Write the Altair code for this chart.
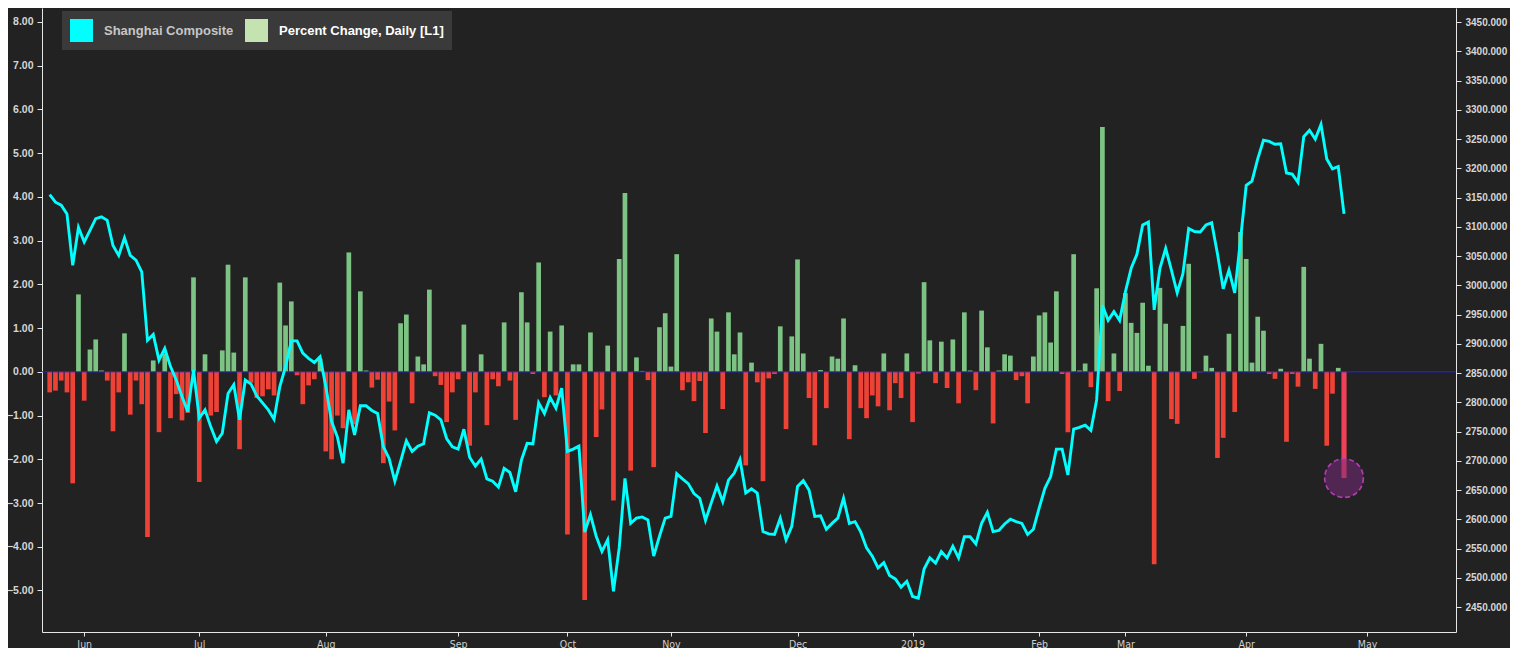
import altair as alt
import pandas as pd

# Daily percent change of the Shanghai Composite (one value per trading day, 24 May 2018 .. 25 Apr 2019)
pct = [
    -0.47, -0.43, -0.20, -0.47, -2.55, 1.77, -0.66, 0.51, 0.74, 0.03,
    -0.20, -1.36, -0.47, 0.88, -0.98, -0.20, -0.74, -3.78, 0.26, -1.38,
    0.42, -1.06, -0.51, -1.11, -0.94, 2.16, -2.52, 0.40, -1.00, -0.92,
    0.49, 2.45, 0.44, -1.77, 2.16, -0.25, -0.60, -0.56, -0.40, -0.54,
    2.04, 1.06, 1.61, -0.08, -0.74, -0.31, -0.17, 0.30, -1.82, -2.00,
    -1.00, -1.29, 2.73, -1.20, 1.84, 0.03, -0.36, -0.18, -2.09, -0.68,
    -1.34, 1.11, 1.31, -0.72, 0.35, 0.17, 1.88, -0.10, -0.30, -1.15,
    -0.47, -0.17, 1.08, -1.69, -0.47, 0.40, -1.22, -0.17, -0.33, 1.13,
    -0.20, -1.10, 1.82, 1.13, -0.05, 2.50, -0.58, 0.92, -0.54, 1.06,
    -3.72, 0.17, 0.17, -5.22, 0.90, -1.49, -0.86, 0.60, -2.94, 2.58,
    4.09, -2.26, 0.33, 0.02, -0.19, -2.18, 1.02, 1.34, 0.12, 2.69,
    -0.42, -0.24, -0.67, -0.21, -1.40, 1.22, 0.92, -0.85, 1.36, 0.40,
    0.90, -2.14, 0.21, -0.24, -2.50, -0.15, -0.05, 1.04, -1.31, 0.81,
    2.57, 0.42, -0.60, -1.68, 0.04, -0.83, 0.35, 0.30, 1.22, -1.54,
    0.15, -0.83, -1.06, -0.54, -0.79, 0.42, -0.88, -0.26, -0.60, 0.42,
    -1.15, -0.04, 2.05, 0.72, -0.26, 0.69, -0.37, 0.74, -0.72, 1.36,
    0.03, -0.42, 1.40, 0.56, -1.18, 0.03, 0.40, 0.37, -0.19, -0.10,
    -0.72, 0.35, 1.29, 1.36, 0.67, 1.84, -0.05, -1.38, 2.69, 0.03,
    0.19, -0.35, 1.91, 5.60, -0.67, 0.42, -0.44, 1.80, 1.12, 0.89,
    1.58, 0.14, -4.40, 1.92, 1.10, -1.08, -1.19, 1.05, 2.47, -0.16,
    -0.01, 0.37, 0.09, -1.97, -1.51, 0.87, -0.92, 3.20, 2.58, 0.21,
    1.26, 0.94, -0.05, -0.16, 0.07, -1.60, -0.05, -0.34, 2.40, 0.30,
    -0.39, 0.64, -1.69, -0.50, 0.09, -2.43,
]

# Shanghai Composite close, same trading days
close = [
    3155, 3142, 3137, 3122, 3034, 3099, 3074, 3094, 3114, 3117,
    3111, 3068, 3051, 3081, 3051, 3043, 3023, 2906, 2916, 2872,
    2892, 2861, 2838, 2810, 2784, 2855, 2773, 2787, 2758, 2733,
    2747, 2815, 2830, 2770, 2838, 2831, 2811, 2799, 2787, 2771,
    2827, 2861, 2905, 2905, 2884, 2875, 2868, 2878, 2827, 2767,
    2741, 2696, 2787, 2744, 2794, 2794, 2786, 2781, 2724, 2704,
    2665, 2699, 2734, 2716, 2725, 2729, 2782, 2778, 2770, 2738,
    2724, 2720, 2754, 2706, 2691, 2703, 2669, 2665, 2655, 2687,
    2680, 2647, 2701, 2730, 2729, 2799, 2781, 2808, 2790, 2824,
    2716, 2720, 2725, 2578, 2608, 2571, 2545, 2565, 2477, 2551,
    2670, 2593, 2602, 2604, 2599, 2537, 2571, 2602, 2605, 2678,
    2669, 2661, 2644, 2636, 2598, 2628, 2657, 2630, 2667, 2679,
    2702, 2645, 2652, 2645, 2579, 2575, 2574, 2602, 2565, 2588,
    2656, 2666, 2650, 2605, 2606, 2583, 2593, 2602, 2636, 2593,
    2596, 2578, 2551, 2537, 2517, 2526, 2504, 2498, 2484, 2494,
    2468, 2465, 2515, 2534, 2525, 2545, 2534, 2554, 2534, 2570,
    2570, 2558, 2593, 2612, 2579, 2581, 2592, 2600, 2596, 2593,
    2574, 2583, 2619, 2653, 2673, 2720, 2720, 2676, 2754, 2757,
    2761, 2752, 2804, 2966, 2940, 2955, 2940, 2989, 3029, 3053,
    3103, 3108, 2958, 3029, 3063, 3026, 2987, 3020, 3097, 3092,
    3091, 3103, 3107, 3054, 2994, 3026, 2987, 3077, 3171, 3178,
    3216, 3248, 3246, 3241, 3242, 3192, 3190, 3176, 3254, 3265,
    3250, 3275, 3216, 3199, 3203, 3122,
]

# x axis: month labels at the trading-day index of each month's first session
month_labels = ["Jun", "Jul", "Aug", "Sep", "Oct", "Nov", "Dec", "2019", "Feb", "Mar", "Apr", "May"]
month_start_idx = [6, 26, 48, 71, 90, 108, 130, 150, 172, 187, 208, 229]

left_ticks = [-5, -4, -3, -2, -1, 0, 1, 2, 3, 4, 5, 6, 7, 8]
right_ticks = [2450, 2500, 2550, 2600, 2650, 2700, 2750, 2800, 2850, 2900, 2950,
               3000, 3050, 3100, 3150, 3200, 3250, 3300, 3350, 3400, 3450]

series_names = ["Shanghai Composite", "Percent Change, Daily [L1]"]
series_colors = ["#00ffff", "#c5e3b0"]

BG = "#222222"
GREEN = "#7dc383"
RED = "#ee4236"

n = len(pct)
df = pd.DataFrame({"idx": list(range(n)), "pct": pct, "close": close})
df["is_last"] = df["idx"] == n - 1
legend_df = pd.DataFrame({"series": series_names})

label_expr = "[{}][indexof([{}], datum.value)]".format(
    ",".join("'{}'".format(m) for m in month_labels),
    ",".join(str(v) for v in month_start_idx),
)

x_enc = alt.X(
    "idx:Q",
    scale=alt.Scale(domain=[-0.47, 243.6], nice=False, zero=False),
    axis=alt.Axis(
        values=month_start_idx, labelExpr=label_expr, title=None, grid=False,
        domainColor="#e6e6e6", tickColor="#e6e6e6", tickSize=4, labelPadding=3,
        labelFont="DejaVu Sans Condensed", labelFontSize=10.5, labelColor="#cfcfcf",
        labelFlush=False,
    ),
)

left_scale = alt.Scale(domain=[-5.95, 8.32], nice=False, zero=False)
right_scale = alt.Scale(domain=[2407.3, 3474.0], nice=False, zero=False)

base = alt.Chart(df)

bars = base.mark_bar(size=4.7, orient="vertical").encode(
    x=x_enc,
    y=alt.Y(
        "pct:Q", scale=left_scale,
        axis=alt.Axis(
            orient="left", values=left_ticks, format=".2f", title=None, grid=False,
            domainColor="#e6e6e6", tickColor="#e6e6e6", tickSize=5, labelPadding=4,
            labelFont="Liberation Sans", labelFontSize=10.5, labelFontWeight="bold",
            labelColor="#d6d6d6",
        ),
    ),
    y2=alt.datum(0),
    color=alt.condition("datum.pct >= 0", alt.value(GREEN), alt.value(RED)),
)

last_bar = base.transform_filter("datum.is_last").mark_bar(
    size=4.7, orient="vertical", color="#f0405c"
).encode(x=x_enc, y=alt.Y("pct:Q", scale=left_scale), y2=alt.datum(0))

zero_rule = base.transform_filter("datum.idx == 0").mark_rule(
    color="#2222ff", strokeWidth=1
).encode(y=alt.Y(datum=0, scale=left_scale))

highlight = base.transform_filter("datum.is_last").mark_point(
    shape="circle", size=1500, fill="#7a2a7a", fillOpacity=0.55, filled=False,
    stroke="#b63cb6", strokeWidth=1.6, strokeDash=[5, 3], opacity=1,
).encode(x=x_enc, y=alt.Y("pct:Q", scale=left_scale))

left_group = alt.layer(bars, last_bar, zero_rule, highlight)

line = base.mark_line(color="#00ffff", strokeWidth=2.9).encode(
    x=x_enc,
    y=alt.Y(
        "close:Q", scale=right_scale,
        axis=alt.Axis(
            orient="right", values=right_ticks, format=".3f", title=None, grid=False,
            domainColor="#e6e6e6", tickColor="#e6e6e6", tickSize=5, labelPadding=4,
            labelFont="Liberation Sans", labelFontSize=10, labelFontWeight="bold",
            labelColor="#d6d6d6",
        ),
    ),
)

legend_layer = alt.Chart(legend_df).transform_filter("false").mark_square(size=529).encode(
    color=alt.Color(
        "series:N",
        scale=alt.Scale(domain=series_names, range=series_colors),
        legend=alt.Legend(
            title=None, orient="none", legendX=20, legendY=3, direction="horizontal",
            fillColor="#3a3a3a", padding=8, symbolType="square", symbolSize=529,
            symbolStrokeWidth=0, symbolOpacity=1, labelOffset=11, columnPadding=11,
            labelFont="Liberation Sans", labelFontSize=13, labelFontWeight="bold",
            labelColor=alt.ExprRef(
                "datum.value == 'Shanghai Composite' ? '#c6c6c6' : '#ffffff'"
            ),
            labelLimit=400,
        ),
    )
)

chart = (
    alt.layer(left_group, line, legend_layer)
    .resolve_scale(y="independent")
    .properties(
        width=1414, height=624,
        autosize=alt.AutoSizeParams(type="none"),
        padding={"left": 34, "top": 0, "right": 54, "bottom": 16},
        background=BG,
    )
    .configure_view(stroke=None)
)

chart.save("out.html", embed_options={"renderer": "svg", "actions": False})
